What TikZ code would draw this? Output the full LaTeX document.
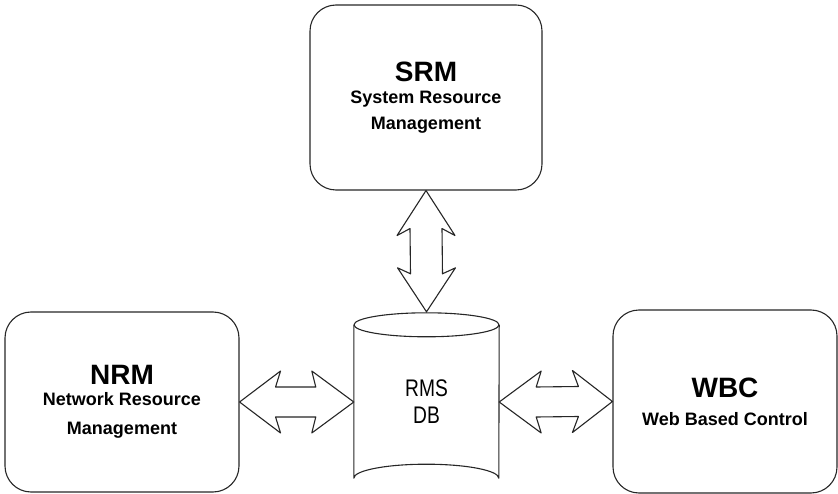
\documentclass[tikz,border=0pt]{standalone}
\usepackage{fontspec}
\setmainfont{Liberation Sans}
\newfontfamily\narrowfont[FakeStretch=0.8]{Liberation Sans}
\usetikzlibrary{calc}
\tikzset{
  x=1pt, y=-1pt,
  lin/.style={line width=1.1pt, draw=black!85, line join=round},
  modbox/.style={lin, rounded corners=26pt, align=center, inner sep=0pt,
    font=\bfseries\fontsize{18}{26}\selectfont},
  dblarrow/.style={lin, fill=white},
}
\newcommand{\ttl}[1]{{\fontsize{28}{30}\selectfont #1}}
\begin{document}
\begin{tikzpicture}
\useasboundingbox (0,0) rectangle (838,494);
% boxes
\node[modbox, minimum width=232pt, minimum height=185pt] (srm) at (426,97.5)
  {\ttl{SRM}\\[-4pt]System Resource\\Management};
\node[modbox, minimum width=234pt, minimum height=180pt] (nrm) at (122,402)
  {\ttl{NRM}\\[-5pt]Network Resource\\[3pt]Management};
\node[modbox, minimum width=224pt, minimum height=183pt] (wbc) at (725,401.5)
  {\ttl{WBC}\\[2pt]Web Based Control};
% database cylinder
\node[inner sep=0pt, minimum width=145pt, minimum height=180pt, align=center,
      font=\narrowfont\fontsize{24}{27}\selectfont] (db) at (426.5,402) {RMS\\DB};
\draw[lin] ($(db.north)+(0,13)$) ellipse [x radius=72.5pt, y radius=12pt];
\draw[lin] ($(db.north west)+(0,13)$) -- ($(db.south west)+(0,-14)$)
  arc [start angle=180, end angle=360, x radius=72.5pt, y radius=-14pt]
  -- ($(db.north east)+(0,13)$);
% vertical double arrow SRM <-> DB
\draw[dblarrow] (srm.south) -- ($(srm.south)+(29,45)$) -- ($(srm.south)+(16,38)$)
  -- ($(db.north)+(16,-38)$) -- ($(db.north)+(29,-44)$) -- (db.north)
  -- ($(db.north)+(-29,-44)$) -- ($(db.north)+(-16,-38)$)
  -- ($(srm.south)+(-16,38)$) -- ($(srm.south)+(-29,45)$) -- cycle;
% horizontal double arrow NRM <-> DB
\draw[dblarrow] (nrm.east) -- ($(nrm.east)+(41,-31)$) -- ($(nrm.east)+(36,-15)$)
  -- ($(db.west)+(-38,-15)$) -- ($(db.west)+(-42,-31)$) -- (db.west)
  -- ($(db.west)+(-42,31)$) -- ($(db.west)+(-38,15)$)
  -- ($(nrm.east)+(36,15)$) -- ($(nrm.east)+(41,31)$) -- cycle;
% horizontal double arrow DB <-> WBC
\draw[dblarrow] (db.east) -- ($(db.east)+(42,-31)$) -- ($(db.east)+(37,-15)$)
  -- ($(wbc.west)+(-34,-15)$) -- ($(wbc.west)+(-40,-31)$) -- (wbc.west)
  -- ($(wbc.west)+(-40,31)$) -- ($(wbc.west)+(-34,15)$)
  -- ($(db.east)+(37,15)$) -- ($(db.east)+(42,31)$) -- cycle;
\end{tikzpicture}
\end{document}
